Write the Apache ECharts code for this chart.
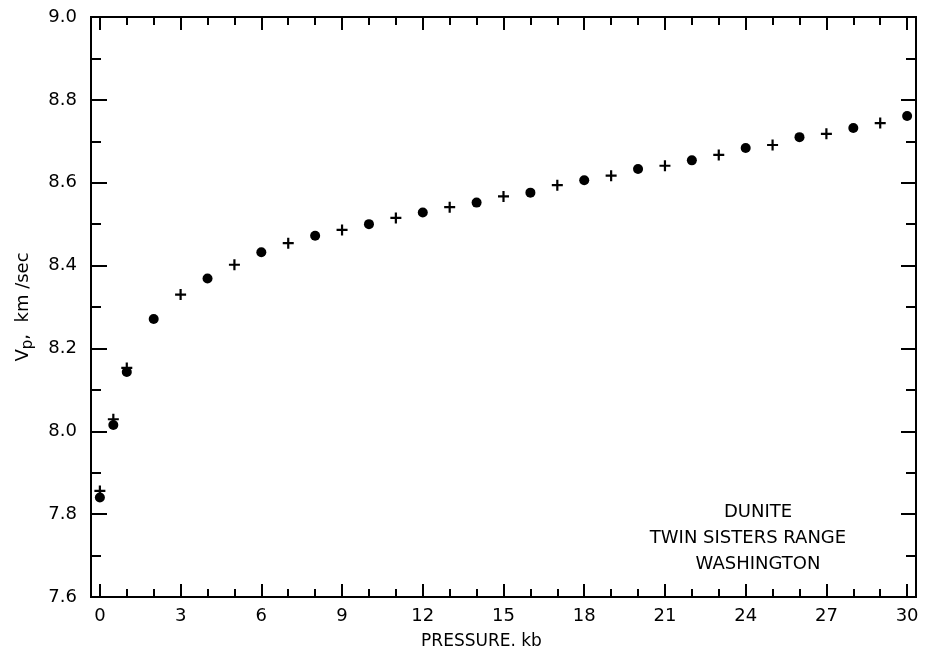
<!DOCTYPE html>
<html>
<head>
<meta charset="utf-8">
<script src="https://cdn.jsdelivr.net/npm/echarts@6/dist/echarts.min.js"></script>
<style>
    html, body { margin: 0; padding: 0; background: #fff; }
    #chart { width: 926px; height: 658px; }
</style>
</head>
<body>
<div id="chart"></div>
<script>
    // 实心圆点（偶数压力）
    var dotPressure = [0, 0.5, 1, 2, 4, 6, 8, 10, 12, 14, 16, 18, 20, 22, 24, 26, 28, 30];
    var dotVp = [7.840, 8.015, 8.143, 8.271, 8.369, 8.432, 8.472, 8.500, 8.528, 8.552, 8.576, 8.606, 8.633, 8.654, 8.684, 8.710, 8.732, 8.761];

    // 十字（奇数压力）
    var crossPressure = [0, 0.5, 1, 3, 5, 7, 9, 11, 13, 15, 17, 19, 21, 23, 25, 27, 29];
    var crossVp = [7.856, 8.029, 8.153, 8.330, 8.402, 8.454, 8.486, 8.515, 8.541, 8.567, 8.594, 8.617, 8.641, 8.667, 8.691, 8.718, 8.744];

    // 刻度
    var xMajorTicks = [0, 3, 6, 9, 12, 15, 18, 21, 24, 27, 30];
    var xMinorTicks = [1, 2, 4, 5, 7, 8, 10, 11, 13, 14, 16, 17, 19, 20, 22, 23, 25, 26, 28, 29];

    var annotation = ['DUNITE', 'TWIN SISTERS RANGE', 'WASHINGTON'];

    var font = 'DejaVu Sans';
    var black = '#000';

    function pairs(xs, ys) {
        return xs.map(function (x, i) { return [x, ys[i]]; });
    }

    function xAxisDef(pos, ticks, len, showLabel) {
        return {
            type: 'value',
            position: pos,
            min: -0.33,
            max: 30.33,
            splitLine: {show: false},
            axisLine: {show: true, onZero: false, lineStyle: {color: black, width: 2}},
            axisTick: {show: true, inside: true, length: len, customValues: ticks,
                lineStyle: {color: black, width: 2}},
            axisLabel: {show: showLabel, customValues: xMajorTicks, margin: 10,
                color: black, fontSize: 18, fontFamily: font}
        };
    }

    function yAxisDef(pos, showLabel) {
        return {
            type: 'value',
            position: pos,
            min: 7.6,
            max: 9.0,
            interval: 0.2,
            splitLine: {show: false},
            axisLine: {show: true, onZero: false, lineStyle: {color: black, width: 2}},
            axisTick: {show: true, inside: true, length: pos === 'left' ? 16 : 15,
                lineStyle: {color: black, width: 2}},
            minorTick: {show: true, splitNumber: 2, length: 10,
                lineStyle: {color: black, width: 2}},
            minorSplitLine: {show: false},
            axisLabel: {show: showLabel, margin: 14, color: black, fontSize: 18, fontFamily: font,
                formatter: function (v) { return v.toFixed(1); }}
        };
    }

    var xMain = xAxisDef('bottom', xMajorTicks, 13, true);
    xMain.name = 'PRESSURE. kb';
    xMain.nameLocation = 'middle';
    xMain.nameGap = 36;
    xMain.nameTextStyle = {color: black, fontSize: 17, fontFamily: font, padding: [0, 44, 0, 0]};

    var yMain = yAxisDef('left', true);
    yMain.name = '{a|V}{b|p}{a|,  km /sec}';
    yMain.nameLocation = 'middle';
    yMain.nameGap = 56;
    yMain.nameTextStyle = {
        color: black, fontFamily: font,
        rich: {
            a: {fontSize: 18, fontFamily: font, color: black, lineHeight: 24},
            b: {fontSize: 15, fontFamily: font, color: black, padding: [10, 0, 0, 0], lineHeight: 24}
        }
    };

    var options = {
        animation: false,
        backgroundColor: '#fff',
        grid: {left: 91, right: 10, top: 17, bottom: 61, containLabel: false},
        xAxis: [
            xMain,
            xAxisDef('bottom', xMinorTicks, 8, false),
            xAxisDef('top', xMajorTicks, 13, false),
            xAxisDef('top', xMinorTicks, 8, false)
        ],
        yAxis: [
            yMain,
            yAxisDef('right', false)
        ],
        graphic: annotation.map(function (t, i) {
            return {
                type: 'text',
                x: i === 1 ? 748 : 758,
                y: 512 + i * 26,
                style: {
                    text: t,
                    align: 'center',
                    verticalAlign: 'middle',
                    font: '18px "' + font + '"',
                    fill: black
                }
            };
        }),
        series: [
            {
                name: 'dot',
                type: 'scatter',
                symbol: 'circle',
                symbolSize: 10,
                itemStyle: {color: black, opacity: 1},
                data: pairs(dotPressure, dotVp)
            },
            {
                name: 'cross',
                type: 'scatter',
                symbol: 'path://M4,0H6V4H10V6H6V10H4V6H0V4H4Z',
                symbolSize: 11,
                itemStyle: {color: black, opacity: 1},
                data: pairs(crossPressure, crossVp)
            }
        ]
    };

    var vpChart = echarts.init(document.getElementById('chart'));
    vpChart.setOption(options);
</script>
</body>
</html>
